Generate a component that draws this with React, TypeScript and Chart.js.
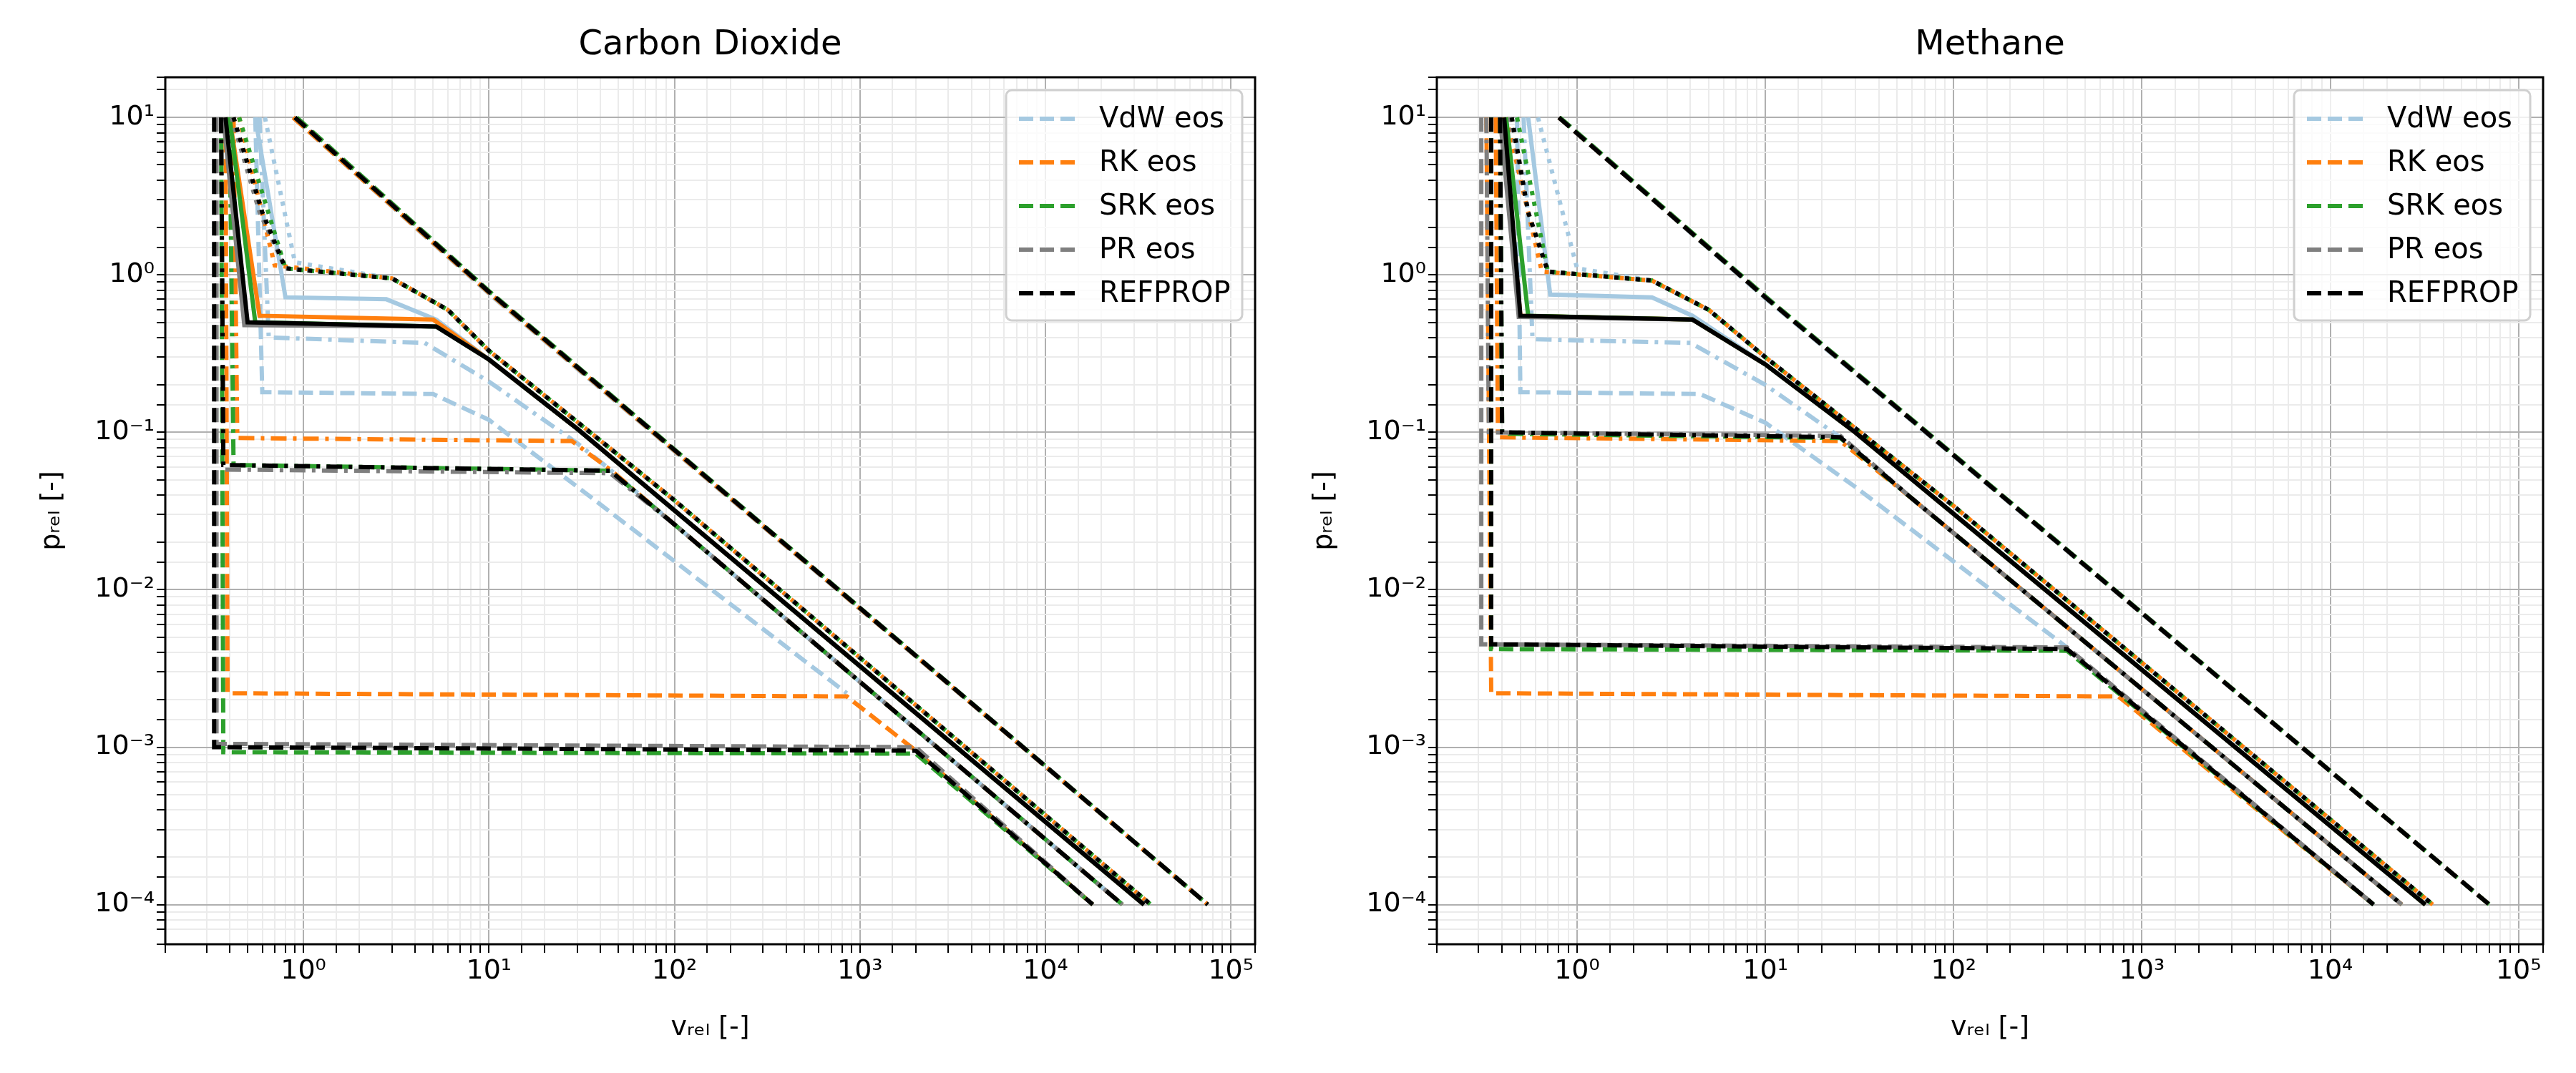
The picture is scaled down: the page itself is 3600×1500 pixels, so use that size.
import Chart from 'chart.js/auto';
import { useEffect, useRef } from 'react';

type Pt = [number, number];

const eosNames = ['VdW eos', 'RK eos', 'SRK eos', 'PR eos', 'REFPROP'];
const eosColors = ['#a5c9e1', '#ff7f0e', '#2ca02c', '#7f7f7f', '#000000'];
// temperature styles: low .. high
const tempDash = [[20, 9], [22, 9, 5, 9], [], [6, 9], [20, 9]];

// Carbon dioxide, [v_rel, p_rel]
const co2Tail2: Pt[] = [[100, 0.026], [2.6e4, 1e-4]];
const co2Tail3: Pt[] = [[10, 0.29], [30, 0.105], [3.4e4, 1e-4]];
const co2Tail4: Pt[] = [[3, 0.95], [6, 0.6], [10, 0.33], [100, 0.037], [3.7e4, 1e-4]];
const co2Vdw: Pt[][] = [
  [[0.55, 10], [0.6, 0.18], [5, 0.175], [10, 0.12], [30, 0.045], [850, 2.2e-3]],
  [[0.58, 10], [0.65, 0.4], [4.5, 0.37], [10, 0.21], [30, 0.085], [45, 0.058], ...co2Tail2],
  [[0.55, 10], [0.8, 0.72], [2.8, 0.7], [5.2, 0.52], ...co2Tail3],
  [[0.62, 10], [0.9, 1.2], ...co2Tail4],
  [[0.88, 10], [10, 0.76], [7.5e4, 1e-4]],
];
const co2Rk: Pt[][] = [
  [[0.38, 10], [0.39, 2.2e-3], [850, 2.1e-3], [2000, 9.5e-4], [1.8e4, 1e-4]],
  [[0.42, 10], [0.44, 0.092], [28, 0.088], [45, 0.058], ...co2Tail2],
  [[0.4, 10], [0.58, 0.55], [5, 0.52], ...co2Tail3],
  [[0.45, 10], [0.7, 1.15], ...co2Tail4],
  [[0.88, 10], [10, 0.77], [7.5e4, 1e-4]],
];
const co2Srk: Pt[][] = [
  [[0.36, 10], [0.37, 9.3e-4], [2000, 9.1e-4], [1.8e4, 1e-4]],
  [[0.4, 10], [0.42, 0.062], [45, 0.057], ...co2Tail2],
  [[0.4, 10], [0.55, 0.5], [5.2, 0.47], ...co2Tail3],
  [[0.45, 10], [0.8, 1.1], ...co2Tail4],
  [[0.92, 10], [10, 0.79], [7.5e4, 1e-4]],
];
const co2Pr: Pt[][] = [
  [[0.34, 10], [0.34, 1.05e-3], [2000, 1e-3], [1.8e4, 1e-4]],
  [[0.36, 10], [0.37, 0.058], [45, 0.055], ...co2Tail2],
  [[0.37, 10], [0.48, 0.48], [5.2, 0.47], ...co2Tail3],
  [[0.41, 10], [0.58, 2.5], [0.8, 1.1], ...co2Tail4],
  [[0.9, 10], [10, 0.78], [7.5e4, 1e-4]],
];
const co2Ref: Pt[][] = [
  [[0.33, 10], [0.33, 1.0e-3], [2000, 9.5e-4], [1.8e4, 1e-4]],
  [[0.36, 10], [0.37, 0.062], [45, 0.057], ...co2Tail2],
  [[0.38, 10], [0.5, 0.5], [5.2, 0.47], ...co2Tail3],
  [[0.42, 10], [0.6, 2.5], [0.8, 1.1], ...co2Tail4],
  [[0.9, 10], [10, 0.78], [7.5e4, 1e-4]],
];

// Methane
const ch4Tail2: Pt[] = [[60, 0.038], [2.4e4, 1e-4]];
const ch4Tail3: Pt[] = [[10, 0.27], [30, 0.1], [3.2e4, 1e-4]];
const ch4Tail4: Pt[] = [[2.5, 0.92], [5, 0.6], [10, 0.3], [100, 0.034], [3.5e4, 1e-4]];
const ch4Vdw: Pt[][] = [
  [[0.48, 10], [0.5, 0.18], [4.5, 0.175], [10, 0.115], [30, 0.045], [400, 4.3e-3]],
  [[0.52, 10], [0.58, 0.39], [4, 0.37], [10, 0.2], [25, 0.093], ...ch4Tail2],
  [[0.55, 10], [0.72, 0.75], [2.5, 0.72], [4.1, 0.55], ...ch4Tail3],
  [[0.62, 10], [1.0, 1.1], ...ch4Tail4],
  [[0.8, 10], [10, 0.71], [7e4, 1e-4]],
];
const ch4Rk: Pt[][] = [
  [[0.33, 10], [0.35, 2.2e-3], [750, 2.1e-3], [1.7e4, 1e-4]],
  [[0.37, 10], [0.38, 0.093], [25, 0.088], ...ch4Tail2],
  [[0.4, 10], [0.5, 0.55], [4.1, 0.52], ...ch4Tail3],
  [[0.42, 10], [0.65, 1.05], ...ch4Tail4],
  [[0.8, 10], [10, 0.72], [7e4, 1e-4]],
];
const ch4Srk: Pt[][] = [
  [[0.35, 10], [0.35, 4.2e-3], [400, 4.1e-3], [1.7e4, 1e-4]],
  [[0.39, 10], [0.4, 0.098], [25, 0.092], ...ch4Tail2],
  [[0.42, 10], [0.55, 0.55], [4.1, 0.52], ...ch4Tail3],
  [[0.48, 10], [0.7, 1.05], ...ch4Tail4],
  [[0.81, 10], [10, 0.73], [7e4, 1e-4]],
];
const ch4Pr: Pt[][] = [
  [[0.31, 10], [0.31, 4.5e-3], [400, 4.3e-3], [1.7e4, 1e-4]],
  [[0.33, 10], [0.34, 0.1], [25, 0.095], ...ch4Tail2],
  [[0.39, 10], [0.49, 0.54], [4.1, 0.52], ...ch4Tail3],
  [[0.44, 10], [0.55, 2.5], [0.7, 1.05], ...ch4Tail4],
  [[0.8, 10], [10, 0.72], [7e4, 1e-4]],
];
const ch4Ref: Pt[][] = [
  [[0.35, 10], [0.35, 4.5e-3], [400, 4.2e-3], [1.7e4, 1e-4]],
  [[0.39, 10], [0.4, 0.1], [25, 0.093], ...ch4Tail2],
  [[0.41, 10], [0.5, 0.55], [4.1, 0.52], ...ch4Tail3],
  [[0.45, 10], [0.55, 2.5], [0.7, 1.05], ...ch4Tail4],
  [[0.8, 10], [10, 0.72], [7e4, 1e-4]],
];

const FONT = 'DejaVu Sans';
const sup: Record<string, string> = { '-': '⁻', '0': '⁰', '1': '¹', '2': '²', '3': '³', '4': '⁴', '5': '⁵' };
const powLabel = (v: number) => {
  const l = Math.log10(v);
  const r = Math.round(l);
  if (Math.abs(l - r) > 1e-6) return '';
  return '10' + String(r).split('').map((c) => sup[c]).join('');
};

function Panel({ title, series, padL, axisW }: { title: string; series: Pt[][][]; padL: number; axisW: number }) {
  const ref = useRef<HTMLCanvasElement>(null);
  useEffect(() => {
    if (!ref.current) return;
    const datasets: any[] = [];
    series.forEach((eos, e) =>
      eos.forEach((iso, t) =>
        datasets.push({
          data: iso.map(([x, y]) => ({ x, y })),
          borderColor: eosColors[e],
          borderDash: tempDash[t],
          borderWidth: 6,
          pointRadius: 0,
          fill: false,
          tension: 0,
          order: 100 - (e * 5 + t),
        })
      )
    );
    const grid = (ctx: any) => (ctx.tick && ctx.tick.label !== '' ? '#b0b0b0' : '#ebebeb');
    const deco = {
      id: 'deco',
      afterDraw(chart: any) {
        const c = chart.ctx;
        const a = chart.chartArea;
        c.save();
        c.strokeStyle = '#000';
        c.lineWidth = 3;
        c.strokeRect(a.left, a.top, a.right - a.left, a.bottom - a.top);
        c.fillStyle = '#000';
        c.font = `48px ${FONT}`;
        c.textAlign = 'center';
        c.textBaseline = 'bottom';
        c.fillText(title, (a.left + a.right) / 2, a.top - 20);
        // legend
        const w = 330, h = 322;
        const x0 = a.right - w - 18, y0 = a.top + 18;
        c.fillStyle = 'rgba(255,255,255,0.8)';
        c.strokeStyle = '#d0d0d0';
        c.lineWidth = 3;
        c.beginPath();
        c.roundRect(x0, y0, w, h, 8);
        c.fill();
        c.stroke();
        c.font = `40px ${FONT}`;
        c.textAlign = 'left';
        c.textBaseline = 'middle';
        eosNames.forEach((n, i) => {
          const y = y0 + 40 + i * 61;
          c.strokeStyle = eosColors[i];
          c.lineWidth = 6;
          c.setLineDash([20, 9]);
          c.beginPath();
          c.moveTo(x0 + 18, y);
          c.lineTo(x0 + 98, y);
          c.stroke();
          c.setLineDash([]);
          c.fillStyle = '#000';
          c.fillText(n, x0 + 130, y + 2);
        });
        c.restore();
      },
    };
    const tickFont = { family: FONT, size: 38 };
    const chart = new Chart(ref.current, {
      type: 'line',
      data: { datasets },
      options: {
        animation: false,
        responsive: false,
        devicePixelRatio: 1,
        layout: { padding: { top: 108, right: 46, left: padL, bottom: 40 } },
        plugins: { legend: { display: false }, tooltip: { enabled: false } },
        scales: {
          x: {
            type: 'logarithmic',
            min: 0.18,
            max: 1.35e5,
            grid: { color: grid, lineWidth: 2, tickLength: 12, tickColor: '#000' } as any,
            border: { display: false },
            ticks: { autoSkip: false, maxRotation: 0, font: tickFont, color: '#000', callback: (v: any) => powLabel(Number(v)) },
            title: { display: true, text: 'vᵣₑₗ [-]', font: tickFont, color: '#000', padding: 0 },
            afterFit: (s: any) => { s.height = 140; },
          },
          y: {
            type: 'logarithmic',
            min: 5.6e-5,
            max: 18,
            grid: { color: grid, lineWidth: 2, tickLength: 12, tickColor: '#000' } as any,
            border: { display: false },
            ticks: { autoSkip: false, font: tickFont, color: '#000', callback: (v: any) => powLabel(Number(v)) },
            title: { display: true, text: 'pᵣₑₗ [-]', font: tickFont, color: '#000', padding: 0 },
            afterFit: (s: any) => { s.width = axisW; },
          },
        },
      },
      plugins: [deco],
    });
    return () => chart.destroy();
  });
  return <canvas ref={ref} width={1800} height={1500} />;
}

export default function App() {
  return (
    <div style={{ position: 'absolute', left: 0, top: 0, display: 'flex', background: '#fff' }}>
      <Panel title="Carbon Dioxide" series={[co2Vdw, co2Rk, co2Srk, co2Pr, co2Ref]} padL={50} axisW={181} />
      <Panel title="Methane" series={[ch4Vdw, ch4Rk, ch4Srk, ch4Pr, ch4Ref]} padL={28} axisW={180} />
    </div>
  );
}
